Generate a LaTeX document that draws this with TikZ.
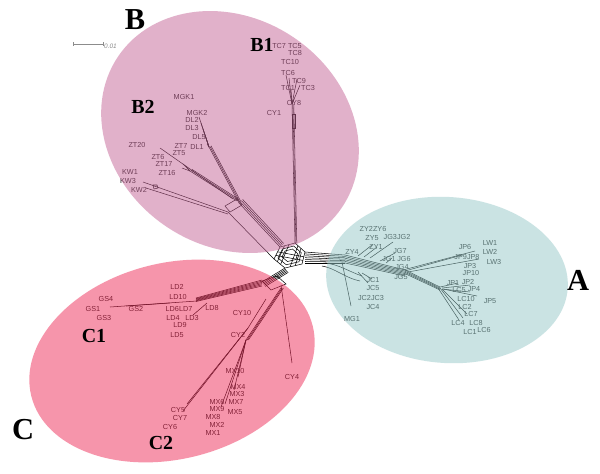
\documentclass[tikz,border=0pt]{standalone}
\usepackage{fontspec}
\setmainfont{Liberation Serif}
\newfontfamily\taxfont{Liberation Sans}
\usetikzlibrary{calc}

\definecolor{cladeA}{RGB}{151,201,201}
\definecolor{cladeB}{RGB}{197,101,151}
\definecolor{cladeC}{RGB}{239,45,89}

\tikzset{
  taxon/.style={font=\taxfont\fontsize{6.2}{7}\selectfont,inner sep=0pt,text=black!90},
  split/.style={line width=0.45pt,black},
  clade/.style={font=\bfseries\fontsize{26}{26}\selectfont,inner sep=0pt},
  subclade/.style={font=\bfseries\fontsize{17}{17}\selectfont,inner sep=0pt},
  cluster/.style={fill opacity=0.5},
}

\begin{document}
\begin{tikzpicture}[x=0.03cm,y=-0.03cm]
  \fill[white] (0,0) rectangle (600,473);
  \useasboundingbox (0,0) rectangle (600,473);

  % scale bar
  \draw[black!45,line width=0.6pt] (73,44) -- (103,44);
  \draw[black!45,line width=0.6pt] (73,42) -- (73,46) (103,42) -- (103,46);
  \node[taxon,text=black!45,anchor=west,font=\taxfont\itshape\fontsize{5.5}{6}\selectfont] (scale) at (104,46) {0.01};

  % central reticulation
  \coordinate (hub) at (290,255);
  \coordinate (hubN) at (295,243);
  \coordinate (hubE) at (305,252);
  \coordinate (hubSE) at (302,264);
  \coordinate (hubS) at (285,268);
  \coordinate (hubW) at (274,259);
  \coordinate (hubNW) at (280,247);
  \foreach \s in {1,0.75,0.5}
    \draw[split] ($(hub)!\s!(hubN)$) -- ($(hub)!\s!(hubE)$) -- ($(hub)!\s!(hubSE)$)
      -- ($(hub)!\s!(hubS)$) -- ($(hub)!\s!(hubW)$) -- ($(hub)!\s!(hubNW)$) -- cycle;
  \foreach \k in {0.3,0.6} {
    \draw[split] ($(hubNW)!\k!(hubN)$) -- ($(hubW)!\k!(hubS)$);
    \draw[split] ($(hubN)!\k!(hubE)$) -- ($(hubS)!\k!(hubSE)$);
    \draw[split] ($(hubW)!\k!(hubNW)$) -- ($(hubSE)!\k!(hubE)$);
  }

  % B1
  \coordinate (b1fork) at (292,104);
  \foreach \k in {0,1,2}
    \draw[split] ($(hubN)+(0.9*\k,0)$) -- ($(b1fork)+(0.9*\k,0)$);
  \draw[split] (292,114) rectangle (295,128);
  \foreach \t in {(286,75),(289,78),(297,79),(300,85),(291,89),(294,99)}
    \draw[split] (b1fork) -- \t;

  % B2
  \coordinate (b2box) at (239,203);
  \coordinate (b2low) at (228,212);
  \foreach \k in {0,...,3}
    \draw[split] ($(hubNW)+(1.2*\k,-1.2*\k)$) -- ($(b2box)+(1.2*\k,-1.2*\k)$);
  \draw[split] (hubW) -- (b2low);
  \draw[split] (225,206) -- (237,199) -- (242,205) -- (230,212) -- cycle;
  \coordinate (dlfork) at (209,147);
  \foreach \k in {0,1,2}
    \draw[split] ($(b2box)+(\k,-0.6*\k)$) -- ($(dlfork)+(\k,-0.6*\k)$);
  \foreach \t in {(199,117),(201,123),(203,129),(205,135),(207,144)}
    \draw[split] (dlfork) -- \t;
  \coordinate (ztfork) at (190,171);
  \foreach \k in {0,1,2}
    \draw[split] ($(b2box)+(-2+\k,-2-0.8*\k)$) -- ($(ztfork)+(\k,-0.8*\k)$);
  \foreach \t in {(183,164),(186,166),(182,168)}
    \draw[split] (ztfork) -- \t;
  \draw[split] (233,199) -- (160,148);
  \draw[split] (b2low) -- (143,182);
  \draw[split] ($(b2low)+(0,2)$) -- (146,188);
  \draw[split] (153,185) -- (157,185) -- (158,188) -- (154,189) -- cycle;

  % A
  \coordinate (anode1) at (345,255);
  \coordinate (anode2) at (405,270);
  \coordinate (anode3) at (440,287);
  \foreach \k in {0,...,6}
    \draw[split] ($(hubE)+(0,1.9*\k)$) -- ($(anode1)+(0,1.4*\k)$);
  \foreach \k in {0,...,5}
    \draw[split] ($(anode1)+(0,1.6*\k)$) -- ($(anode2)+(0,1.2*\k)$);
  \foreach \k in {0,...,3}
    \draw[split] ($(anode2)+(0,1.2*\k)$) -- ($(anode3)+(0,\k)$);
  \draw[split] (325,263) .. controls (338,264) and (350,272) .. (362,276);
  \draw[split] (322,266) .. controls (335,268) and (345,278) .. (360,281);
  \draw[split] (342,262) -- (351,306);
  \foreach \ax/\ay/\bx/\by in {358/272/368/283, 362/273/372/279,
      358/256/372/245, 364/257/377/247, 370/258/393/242,
      380/261/395/253, 386/263/392/258,
      403/270/475/251, 408/272/479/259, 405/271/462/255,
      440/288/463/318, 442/289/467/314, 438/288/459/320,
      440/287/458/283, 442/288/470/285, 443/289/477/296,
      442/289/470/292}
    \draw[split] (\ax,\ay) -- (\bx,\by);

  % C
  \coordinate (cstem) at (262,282);
  \foreach \k in {0,...,4}
    \draw[split] ($(hubS)+(0.8*\k,1.1*\k)$) -- ($(cstem)+(0.8*\k,1.1*\k)$);
  \draw[split] (262,281) -- (277,276) -- (286,284) -- (271,290) -- cycle;
  \foreach \k in {0,...,5}
    \draw[split] ($(cstem)+(0,1.2*\k-2)$) -- ($(196,298)+(0,0.7*\k)$);
  \draw[split] (197,301) -- (110,307);
  \draw[split] (170,303) -- (126,306);
  \draw[split] (193,315) -- (207,303);
  \coordinate (c2top) at (281,288);
  \coordinate (c2mid) at (246,340);
  \foreach \k in {0,1,2}
    \draw[split] ($(c2top)+(1.2*\k,0)$) -- ($(c2mid)+(1.2*\k,0)$);
  \foreach \t in {(238,377),(234,390),(221,407),(225,404)}
    \draw[split] (c2mid) -- \t;
  \coordinate (cymid) at (248,328);
  \draw[split] (266,299) -- (cymid);
  \draw[split] (cymid) -- (183,411);
  \draw[split] (cymid) -- (187,404);
  \draw[split] (281,285) -- (292,363);

  % taxa B
  \node[taxon] (tc7) at (287,46) {TC7 TC5};
  \node[taxon] (tc8) at (295,53) {TC8};
  \node[taxon] (tc10) at (290,62) {TC10};
  \node[taxon] (tc6) at (288,73) {TC6};
  \node[taxon] (tc9) at (299,81) {TC9};
  \node[taxon] (tc1) at (288,88) {TC1};
  \node[taxon] (tc3) at (308,88) {TC3};
  \node[taxon] (cy8) at (294,103) {CY8};
  \node[taxon] (cy1) at (274,113) {CY1};
  \node[taxon] (mgk1) at (184,97) {MGK1};
  \node[taxon] (mgk2) at (197,113) {MGK2};
  \node[taxon] (dl2) at (192,120) {DL2};
  \node[taxon] (dl3) at (192,128) {DL3};
  \node[taxon] (dl5) at (199,137) {DL5};
  \node[taxon] (zt7) at (181,146) {ZT7};
  \node[taxon] (dl1) at (197,147) {DL1};
  \node[taxon] (zt20) at (137,145) {ZT20};
  \node[taxon] (zt5) at (179,153) {ZT5};
  \node[taxon] (zt6) at (158,157) {ZT6};
  \node[taxon] (zt17) at (164,164) {ZT17};
  \node[taxon] (zt16) at (167,173) {ZT16};
  \node[taxon] (kw1) at (130,172) {KW1};
  \node[taxon] (kw3) at (128,181) {KW3};
  \node[taxon] (kw2) at (139,190) {KW2};

  % taxa A
  \node[taxon] (zy2) at (373,229) {ZY2ZY6};
  \node[taxon] (zy5) at (372,238) {ZY5};
  \node[taxon] (jg3) at (397,237) {JG3JG2};
  \node[taxon] (zy4) at (352,252) {ZY4};
  \node[taxon] (zy1) at (376,247) {ZY1};
  \node[taxon] (jg7) at (400,251) {JG7};
  \node[taxon] (jg1) at (389,259) {JG1};
  \node[taxon] (jg6) at (404,259) {JG6};
  \node[taxon] (jg4) at (402,267) {JG4};
  \node[taxon] (jg5) at (401,277) {JG5};
  \node[taxon] (jc1) at (373,280) {JC1};
  \node[taxon] (jc5) at (373,288) {JC5};
  \node[taxon] (jc2) at (371,298) {JC2JC3};
  \node[taxon] (jc4) at (373,307) {JC4};
  \node[taxon] (mg1) at (352,319) {MG1};
  \node[taxon] (jp6) at (465,247) {JP6};
  \node[taxon] (lw1) at (490,243) {LW1};
  \node[taxon] (lw2) at (490,252) {LW2};
  \node[taxon] (lw3) at (494,262) {LW3};
  \node[taxon] (jp9) at (467,257) {JP9JP8};
  \node[taxon] (jp3) at (470,266) {JP3};
  \node[taxon] (jp10) at (471,273) {JP10};
  \node[taxon] (jp1) at (453,283) {JP1};
  \node[taxon] (jp2) at (468,282) {JP2};
  \node[taxon] (lc5) at (459,290) {LC5};
  \node[taxon] (jp4) at (474,289) {JP4};
  \node[taxon] (lc10) at (466,299) {LC10};
  \node[taxon] (jp5) at (490,301) {JP5};
  \node[taxon] (lc2) at (465,307) {LC2};
  \node[taxon] (lc7) at (471,314) {LC7};
  \node[taxon] (lc4) at (458,323) {LC4};
  \node[taxon] (lc8) at (476,323) {LC8};
  \node[taxon] (lc1) at (470,332) {LC1};
  \node[taxon] (lc6) at (484,330) {LC6};

  % taxa C
  \node[taxon] (ld2) at (177,287) {LD2};
  \node[taxon] (ld10) at (178,297) {LD10};
  \node[taxon] (gs4) at (106,299) {GS4};
  \node[taxon] (gs1) at (93,309) {GS1};
  \node[taxon] (gs2) at (136,309) {GS2};
  \node[taxon] (gs3) at (104,318) {GS3};
  \node[taxon] (ld6) at (179,309) {LD6LD7};
  \node[taxon] (ld8) at (212,308) {LD8};
  \node[taxon] (ld4) at (173,318) {LD4};
  \node[taxon] (ld3) at (192,318) {LD3};
  \node[taxon] (ld9) at (180,325) {LD9};
  \node[taxon] (ld5) at (177,335) {LD5};
  \node[taxon] (cy10) at (242,313) {CY10};
  \node[taxon] (cy2) at (238,335) {CY2};
  \node[taxon] (mx10) at (235,371) {MX10};
  \node[taxon] (cy4) at (292,377) {CY4};
  \node[taxon] (mx4) at (238,387) {MX4};
  \node[taxon] (mx3) at (237,394) {MX3};
  \node[taxon] (mx7) at (236,402) {MX7};
  \node[taxon] (mx5) at (235,412) {MX5};
  \node[taxon] (mx6) at (217,402) {MX6};
  \node[taxon] (mx9) at (217,409) {MX9};
  \node[taxon] (mx8) at (213,417) {MX8};
  \node[taxon] (mx2) at (217,425) {MX2};
  \node[taxon] (mx1) at (213,433) {MX1};
  \node[taxon] (cy5) at (178,410) {CY5};
  \node[taxon] (cy7) at (180,418) {CY7};
  \node[taxon] (cy6) at (170,427) {CY6};

  % clusters
  \fill[cladeB,cluster,rotate around={-34:(230,132)}] (230,132) ellipse [x radius=135, y radius=114];
  \fill[cladeA,cluster,rotate around={-4:(447,280)}] (447,280) ellipse [x radius=121, y radius=83];
  \fill[cladeC,cluster,rotate around={14:(172,361)}] (172,361) ellipse [x radius=145, y radius=98];

  \node[clade] (cladeA) at (578,280) {A};
  \node[clade] (cladeB) at (135,20) {B};
  \node[clade] (cladeC) at (23,430) {C};
  \node[subclade] (b1) at (262,45) {B1};
  \node[subclade] (b2) at (143,107) {B2};
  \node[subclade] (c1) at (94,336) {C1};
  \node[subclade] (c2) at (161,443) {C2};
\end{tikzpicture}
\end{document}
